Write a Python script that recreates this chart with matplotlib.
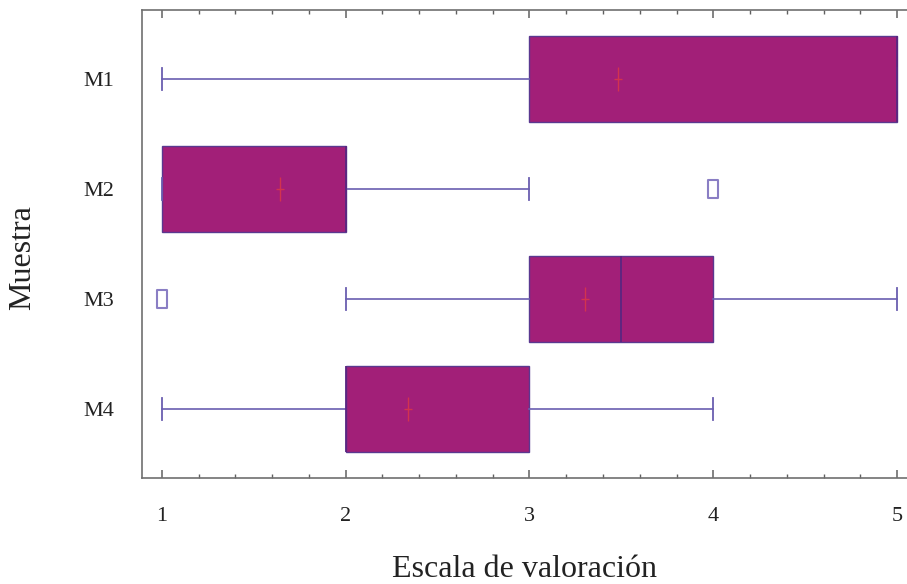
import matplotlib
matplotlib.use("Agg")
import matplotlib.pyplot as plt
from matplotlib.path import Path
from matplotlib.ticker import MultipleLocator

plt.rcParams['font.family'] = ['Liberation Serif', 'DejaVu Serif']

samples = ["M1", "M2", "M3", "M4"]
whisker_low = [1, 1, 2, 1]
q1 = [3, 1, 3, 2]
median = [5, 2, 3.5, 2]
q3 = [5, 2, 4, 3]
whisker_high = [5, 3, 5, 4]
means = [3.48, 1.64, 3.30, 2.34]
outliers = [[], [4], [1], []]
xticks = [1, 2, 3, 4, 5]

box_fill = "#A21F78"
box_edge = "#5A3890"
whisk_col = "#6A5EB0"
mean_col = "#D2334F"
flier_col = "#8A7EC4"

fig = plt.figure(figsize=(9.07, 5.84), dpi=100)
ax = fig.add_axes([0.1562, 0.1815, 0.8438, 0.8014])

stats = []
for i, s in enumerate(samples):
    stats.append(dict(label=s, whislo=whisker_low[i], q1=q1[i], med=median[i],
                      q3=q3[i], whishi=whisker_high[i], mean=means[i],
                      fliers=outliers[i]))

positions = list(range(1, len(samples) + 1))

mean_marker = Path([(0, -1), (0, 1), (-0.38, 0), (0.38, 0)],
                   [Path.MOVETO, Path.LINETO, Path.MOVETO, Path.LINETO])
flier_marker = Path([(-0.5, -1), (0.5, -1), (0.5, 1), (-0.5, 1), (-0.5, -1)],
                    [Path.MOVETO, Path.LINETO, Path.LINETO, Path.LINETO, Path.CLOSEPOLY])

ax.bxp(stats, positions=positions, vert=False, widths=0.79, capwidths=0.2,
       patch_artist=True, showmeans=True, showfliers=True,
       boxprops=dict(facecolor=box_fill, edgecolor=box_edge, linewidth=1.0),
       medianprops=dict(color="#5A2680", linewidth=1.3),
       whiskerprops=dict(color=whisk_col, linewidth=1.2),
       capprops=dict(color=whisk_col, linewidth=1.3),
       meanprops=dict(marker=mean_marker, markersize=17, markeredgecolor=mean_col,
                      markerfacecolor="none", markeredgewidth=1.0),
       flierprops=dict(marker=flier_marker, markersize=13, markeredgecolor=flier_col,
                       markerfacecolor="none", markeredgewidth=1.5))

ax.set_xlim(0.89, 5.054)
ax.set_ylim(4.627, 0.373)
ax.set_xticks(xticks)
ax.set_xticklabels([str(t) for t in xticks])
ax.xaxis.set_minor_locator(MultipleLocator(0.2))
ax.set_yticks(positions)
ax.set_yticklabels(samples)

for sp in ["left", "top", "bottom"]:
    ax.spines[sp].set_color("#707070")
    ax.spines[sp].set_linewidth(1.2)
ax.spines["right"].set_visible(False)

ax.tick_params(axis="x", which="both", direction="in", top=True, bottom=True,
               colors="#606060", labelcolor="#222222", labelsize=16, pad=21)
ax.tick_params(axis="x", which="major", length=6, width=1.1)
ax.tick_params(axis="x", which="minor", length=3, width=1.0)
ax.tick_params(axis="y", which="both", length=0, labelsize=16, pad=20, labelcolor="#222222")

ax.set_xlabel("Escala de valoración", fontsize=23, color="#222222", labelpad=21)
ax.set_ylabel("Muestra", fontsize=23, color="#222222")
ax.yaxis.set_label_coords(-0.137, 0.47)

fig.savefig("out.png", dpi=100)
